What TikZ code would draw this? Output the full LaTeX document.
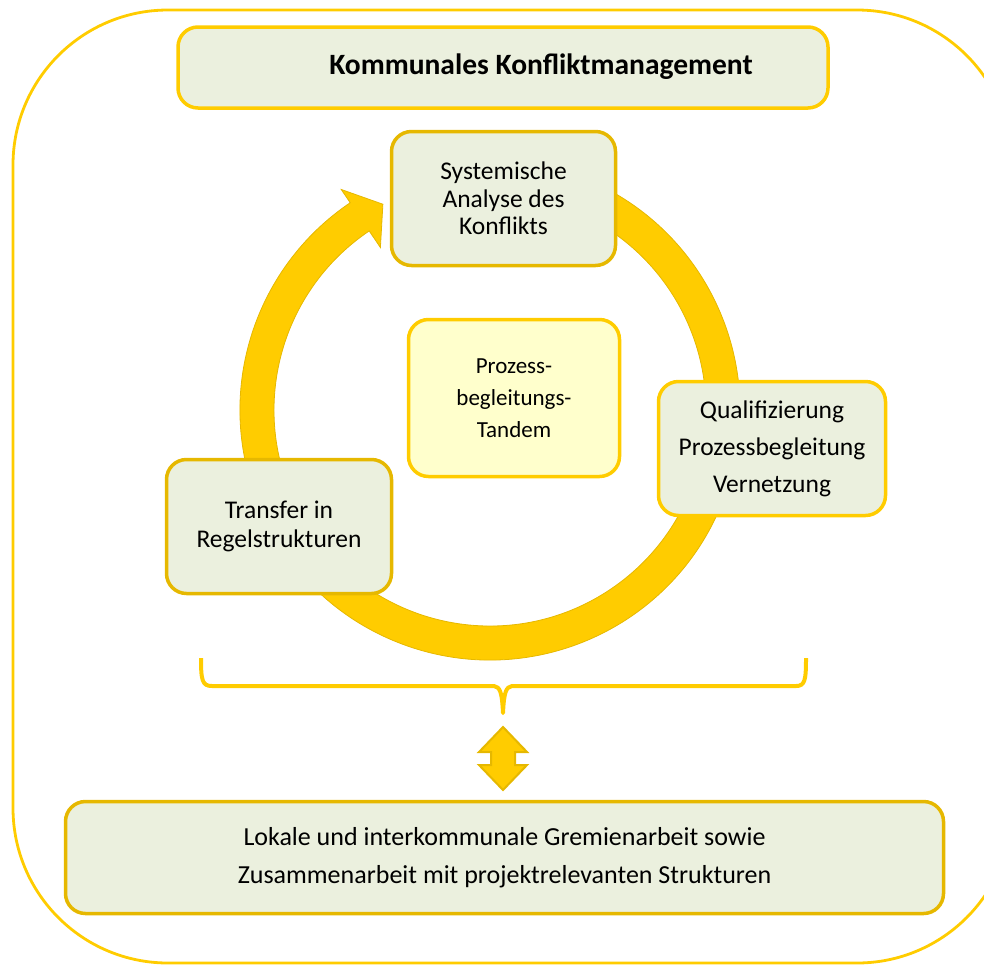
\documentclass[tikz,border=0pt]{standalone}
\usepackage{fontspec}
\setmainfont{Carlito}
\usetikzlibrary{shapes,arrows,positioning,calc}
\definecolor{kyellow}{HTML}{FFCC00}
\definecolor{kgold}{HTML}{E6B800}
\definecolor{kgreen}{HTML}{EBF0DE}
\definecolor{klight}{HTML}{FFFFCC}
\tikzstyle{box} = [draw=kyellow, line width=3.5pt, fill=kgreen, rounded corners=20pt, align=center, inner sep=0pt]
\tikzstyle{goldbox} = [box, draw=kgold]
\tikzstyle{ring} = [fill=kyellow, draw=kgold, line width=0.8pt]

\begin{document}
\begin{tikzpicture}[x=1pt, y=1pt]
		\useasboundingbox (0,0) rectangle (984,-967);
		%\draw[help lines, step=50] (0,0) grid (984,-967);
		% outer frame
		\draw[kyellow, line width=2.8pt, rounded corners=155pt] (13,-10) rectangle (1012,-963);
		% circular arrow
		\coordinate (c) at (490,-410);
		\filldraw[ring] ($(c)+(70:250pt)$) arc[start angle=70, end angle=-236, radius=250pt]
			-- ($(c)+(-236:266pt)$) -- ($(c)+(-242.5:232pt)$) -- ($(c)+(-236:196pt)$)
			-- ($(c)+(-236:216pt)$) arc[start angle=-236, end angle=70, radius=216pt] -- cycle;
		% boxes
		\node[box, minimum width=650pt, minimum height=81pt] (title) at (503,-67.5) {};
		\node[font=\fontsize{29.5}{34}\selectfont\bfseries] (titletext) at (541,-67) {Kommunales Konfliktmanagement};
		\node[goldbox, minimum width=224pt, minimum height=134pt, font=\fontsize{25.5}{27.5}\selectfont] (analyse) at (503.5,-198.5) {Systemische\\Analyse des\\Konflikts};
		\node[box, fill=klight, minimum width=211pt, minimum height=157pt, font=\fontsize{23}{32}\selectfont] (tandem) at (514,-398) {Prozess-\\begleitungs-\\Tandem};
		\node[box, minimum width=227pt, minimum height=134pt, font=\fontsize{25.5}{37}\selectfont] (quali) at (772,-448.5) {Qualifizierung\\Prozessbegleitung\\Vernetzung};
		\node[goldbox, minimum width=225pt, minimum height=134pt, font=\fontsize{25.5}{29}\selectfont] (transfer) at (279,-526.5) {Transfer in\\Regelstrukturen};
		\node[goldbox, minimum width=878pt, minimum height=112pt, font=\fontsize{26}{38}\selectfont] (gremien) at (504.5,-857.5) {Lokale und interkommunale Gremienarbeit sowie\\Zusammenarbeit mit projektrelevanten Strukturen};
		% bracket
		\draw[kyellow, line width=4pt, line join=round]
			(201,-658) .. controls (201,-680) and (202,-686) .. (212,-686) -- (494,-686)
			.. controls (500,-687) and (502,-692) .. (503,-713)
			.. controls (504,-692) and (506,-687) .. (512,-686) -- (796,-686)
			.. controls (805,-686) and (806,-680) .. (806,-658);
		% double arrow
		\filldraw[ring, line width=2pt] (503,-727) -- (527,-752) -- (515,-752) -- (515,-765) -- (527,-765)
			-- (503,-790) -- (479,-765) -- (491,-765) -- (491,-752) -- (479,-752) -- cycle;
\end{tikzpicture}
\end{document}
